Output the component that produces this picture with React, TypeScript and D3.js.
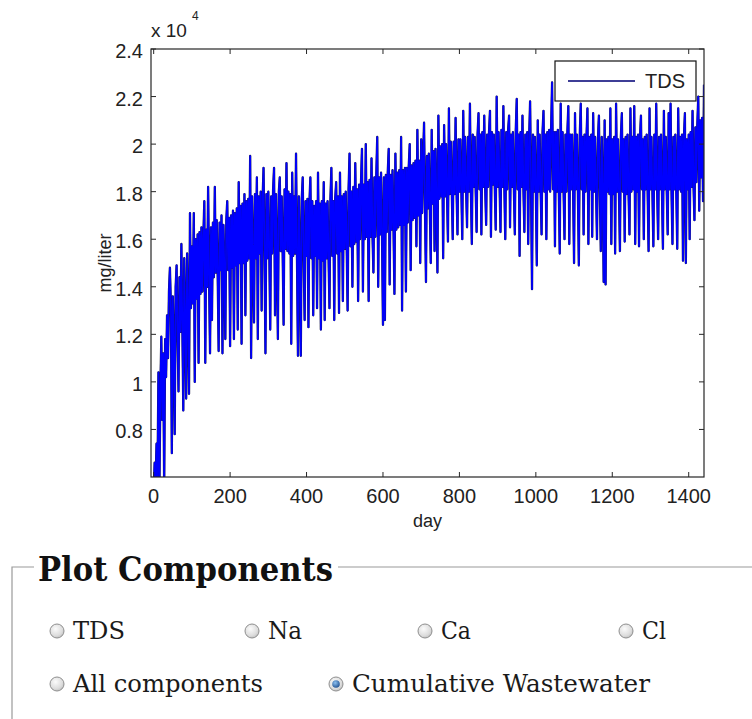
import React from "react";
import * as d3 from "d3";

const WIDTH = 752;
const HEIGHT = 719;

// Sampling interval of the TDS record, in days (first sample on day 0)
const SAMPLE_STEP_DAYS = 2.5;

// TDS concentration in hundreds of mg/liter, one value per sample
const tdsHundreds: number[] = [
  52, 66, 58, 74, 60, 104, 55, 96, 119, 84, 112, 56, 118, 102, 128, 110, 138, 148, 132, 70,
  136, 116, 78, 140, 149, 118, 96, 144, 121, 158, 124, 88, 152, 126, 93, 154, 128, 95, 171, 131,
  157, 133, 171, 100, 160, 135, 162, 108, 163, 137, 165, 138, 161, 176, 108, 164, 140, 182, 142, 112,
  165, 126, 167, 144, 182, 146, 168, 145, 113, 167, 147, 170, 112, 166, 148, 118, 168, 176, 147, 169,
  115, 170, 148, 172, 118, 171, 149, 173, 122, 184, 150, 174, 116, 175, 150, 179, 128, 176, 151, 177,
  152, 195, 110, 178, 153, 125, 179, 152, 186, 118, 178, 154, 180, 130, 177, 190, 153, 112, 179, 152,
  180, 155, 122, 178, 154, 181, 190, 128, 179, 153, 118, 180, 186, 155, 178, 154, 124, 181, 156, 192,
  155, 180, 154, 179, 116, 188, 153, 178, 154, 196, 152, 111, 178, 153, 111, 177, 186, 152, 126, 176,
  153, 177, 123, 175, 186, 152, 176, 128, 174, 153, 176, 131, 188, 152, 175, 122, 176, 151, 184, 126,
  175, 152, 176, 153, 131, 177, 190, 153, 176, 126, 177, 184, 154, 178, 129, 188, 155, 178, 134, 179,
  156, 180, 157, 130, 181, 196, 157, 180, 140, 182, 158, 192, 159, 181, 134, 183, 160, 184, 198, 138,
  183, 160, 200, 161, 184, 134, 185, 161, 194, 162, 146, 186, 161, 187, 203, 140, 186, 162, 188, 161,
  124, 186, 126, 187, 163, 188, 198, 141, 187, 164, 189, 165, 137, 196, 164, 188, 165, 189, 166, 203,
  130, 189, 166, 190, 138, 190, 167, 191, 200, 147, 191, 168, 192, 169, 193, 157, 206, 170, 193, 150,
  202, 171, 194, 209, 172, 142, 195, 173, 196, 174, 150, 206, 175, 197, 155, 198, 176, 146, 212, 177,
  199, 178, 200, 152, 208, 178, 200, 179, 159, 215, 179, 201, 180, 160, 201, 179, 211, 180, 162, 202,
  180, 202, 181, 160, 214, 180, 203, 181, 165, 203, 180, 217, 181, 158, 204, 182, 203, 181, 163, 204,
  213, 181, 204, 162, 205, 182, 212, 181, 166, 204, 182, 205, 214, 161, 205, 183, 204, 182, 164, 220,
  182, 205, 183, 163, 206, 182, 216, 183, 160, 205, 181, 206, 212, 165, 204, 182, 205, 181, 162, 206,
  219, 181, 204, 153, 205, 182, 212, 181, 163, 204, 181, 205, 158, 203, 218, 180, 139, 204, 180, 203,
  181, 149, 210, 180, 204, 181, 162, 205, 214, 180, 204, 160, 205, 181, 206, 180, 207, 226, 181, 205,
  157, 205, 180, 206, 181, 154, 217, 180, 205, 181, 160, 204, 180, 205, 216, 158, 204, 181, 204, 180,
  150, 213, 181, 204, 180, 149, 204, 217, 181, 203, 162, 204, 180, 203, 215, 158, 203, 181, 204, 161,
  213, 180, 203, 181, 160, 202, 212, 180, 155, 203, 179, 142, 210, 141, 202, 180, 203, 179, 215, 158,
  202, 179, 203, 154, 217, 180, 202, 179, 155, 203, 213, 180, 202, 159, 203, 179, 204, 180, 162, 215,
  180, 203, 181, 216, 158, 203, 180, 204, 157, 203, 212, 181, 202, 160, 203, 181, 204, 180, 155, 215,
  181, 203, 180, 157, 204, 181, 217, 180, 160, 203, 181, 204, 180, 156, 214, 181, 203, 180, 162, 213,
  181, 217, 180, 158, 203, 181, 204, 180, 156, 215, 181, 203, 180, 204, 151, 203, 213, 150, 202, 181,
  204, 160, 205, 182, 214, 183, 168, 207, 184, 208, 220, 172, 210, 186, 211, 176, 225,
];

const xTicks = [0, 200, 400, 600, 800, 1000, 1200, 1400];
const yTicks = [8000, 10000, 12000, 14000, 16000, 18000, 20000, 22000, 24000];
const yTickLabels = ["0.8", "1", "1.2", "1.4", "1.6", "1.8", "2", "2.2", "2.4"];
const xDomain = [-7, 1440];
const yDomain = [6000, 24000];

const legendLabel = "TDS";
const xAxisLabel = "day";
const yAxisLabel = "mg/liter";

const panelTitle = "Plot Components";
const componentRow1 = ["TDS", "Na", "Ca", "Cl"];
const componentRow2 = ["All components", "Cumulative Wastewater"];
const selectedComponent = "Cumulative Wastewater";

// ---- layout ----
const plot = { left: 151, top: 49, right: 704, bottom: 477 };
const axisFont = "'Liberation Sans', Arial, Helvetica, sans-serif";
const panelFont = "'DejaVu Serif', 'Liberation Serif', serif";

const row1Layout = [
  { cx: 57, width: 52 },
  { cx: 252, width: 34 },
  { cx: 425, width: 30 },
  { cx: 626, width: 24 },
];
const row2Layout = [
  { cx: 57, width: 190 },
  { cx: 336, width: 298 },
];
const row1Y = 631;
const row2Y = 684;

const points: [number, number][] = tdsHundreds.map((v, i) => [i * SAMPLE_STEP_DAYS, v * 100]);

function Radio({ cx, cy, label, width, checked }: { cx: number; cy: number; label: string; width: number; checked: boolean }) {
  return (
    <g>
      <circle cx={cx} cy={cy} r={7} fill="url(#radioFill)" stroke="#8f8f8f" strokeWidth={1} />
      {checked && <circle cx={cx} cy={cy} r={3.8} fill="url(#radioDot)" />}
      <text
        x={cx + 16}
        y={cy + 8}
        fontFamily={panelFont}
        fontSize={25}
        fill="#1a1a1a"
        textLength={width}
        lengthAdjust="spacingAndGlyphs"
      >
        {label}
      </text>
    </g>
  );
}

export default function App() {
  const x = d3.scaleLinear().domain(xDomain).range([plot.left, plot.right]);
  const y = d3.scaleLinear().domain(yDomain).range([plot.bottom, plot.top]);
  const linePath = d3
    .line<[number, number]>()
    .x((d) => x(d[0]))
    .y((d) => y(d[1]))(points) as string;

  const pw = plot.right - plot.left;
  const ph = plot.bottom - plot.top;
  const tickLen = 5;
  const axisColor = "#262626";

  return (
    <svg
      width={WIDTH}
      height={HEIGHT}
      viewBox={`0 0 ${WIDTH} ${HEIGHT}`}
      style={{ position: "absolute", left: 0, top: 0, display: "block", background: "#fff" }}
    >
      <defs>
        <clipPath id="plotClip">
          <rect x={plot.left} y={plot.top} width={pw} height={ph} />
        </clipPath>
        <radialGradient id="radioFill" cx="40%" cy="35%" r="70%">
          <stop offset="0%" stopColor="#fbfbfb" />
          <stop offset="70%" stopColor="#dcdcdc" />
          <stop offset="100%" stopColor="#bdbdbd" />
        </radialGradient>
        <radialGradient id="radioDot" cx="40%" cy="35%" r="70%">
          <stop offset="0%" stopColor="#8cc0f0" />
          <stop offset="100%" stopColor="#1f4f8f" />
        </radialGradient>
      </defs>

      <rect x={0} y={0} width={WIDTH} height={HEIGHT} fill="#fff" />

      {/* data */}
      <g clipPath="url(#plotClip)">
        <path d={linePath} fill="none" stroke="#1c1c44" strokeWidth={2.3} strokeLinejoin="round" />
        <path d={linePath} fill="none" stroke="#0000ff" strokeWidth={1.7} strokeLinejoin="round" />
      </g>

      {/* axes box */}
      <rect x={plot.left} y={plot.top} width={pw} height={ph} fill="none" stroke={axisColor} strokeWidth={1.2} />

      {/* x ticks */}
      {xTicks.map((t) => (
        <g key={`xt${t}`}>
          <line x1={x(t)} x2={x(t)} y1={plot.bottom} y2={plot.bottom - tickLen} stroke={axisColor} />
          <line x1={x(t)} x2={x(t)} y1={plot.top} y2={plot.top + tickLen} stroke={axisColor} />
          <text x={x(t)} y={plot.bottom + 26} textAnchor="middle" fontFamily={axisFont} fontSize={20} fill="#222">
            {t}
          </text>
        </g>
      ))}

      {/* y ticks */}
      {yTicks.map((t, i) => (
        <g key={`yt${t}`}>
          <line x1={plot.left} x2={plot.left + tickLen} y1={y(t)} y2={y(t)} stroke={axisColor} />
          <line x1={plot.right} x2={plot.right - tickLen} y1={y(t)} y2={y(t)} stroke={axisColor} />
          <text x={plot.left - 8} y={y(t) + 9} textAnchor="end" fontFamily={axisFont} fontSize={20} fill="#222">
            {yTickLabels[i]}
          </text>
        </g>
      ))}

      {/* exponent */}
      <text x={plot.left} y={plot.top - 12} fontFamily={axisFont} fontSize={19} fill="#222">
        x 10
      </text>
      <text x={plot.left + 41} y={plot.top - 29} fontFamily={axisFont} fontSize={12} fill="#222">
        4
      </text>

      {/* axis labels */}
      <text x={(plot.left + plot.right) / 2} y={plot.bottom + 50} textAnchor="middle" fontFamily={axisFont} fontSize={18} fill="#222">
        {xAxisLabel}
      </text>
      <text
        transform={`translate(${plot.left - 40},${(plot.top + plot.bottom) / 2}) rotate(-90)`}
        textAnchor="middle"
        fontFamily={axisFont}
        fontSize={18}
        fill="#222"
      >
        {yAxisLabel}
      </text>

      {/* legend */}
      <g>
        <rect x={555} y={61} width={141} height={40} fill="#fff" stroke="#111" strokeWidth={1.2} />
        <line x1={568} x2={635} y1={81} y2={81} stroke="#20204a" strokeWidth={1.6} />
        <line x1={568} x2={635} y1={81} y2={81} stroke="#0000e0" strokeWidth={0.6} />
        <text x={645} y={88} fontFamily={axisFont} fontSize={20} fill="#222">
          {legendLabel}
        </text>
      </g>

      {/* component selector panel */}
      <g>
        <path d={`M 34 567 H 12 V ${HEIGHT}`} fill="none" stroke="#9a9a9a" strokeWidth={1.2} />
        <line x1={338} x2={WIDTH} y1={567} y2={567} stroke="#9a9a9a" strokeWidth={1.2} />
        <text
          x={38}
          y={581}
          fontFamily={panelFont}
          fontWeight="bold"
          fontSize={34}
          fill="#111"
          textLength={295}
          lengthAdjust="spacingAndGlyphs"
        >
          {panelTitle}
        </text>
        {componentRow1.map((c, i) => (
          <Radio key={c} cx={row1Layout[i].cx} cy={row1Y} label={c} width={row1Layout[i].width} checked={c === selectedComponent} />
        ))}
        {componentRow2.map((c, i) => (
          <Radio key={c} cx={row2Layout[i].cx} cy={row2Y} label={c} width={row2Layout[i].width} checked={c === selectedComponent} />
        ))}
      </g>
    </svg>
  );
}
